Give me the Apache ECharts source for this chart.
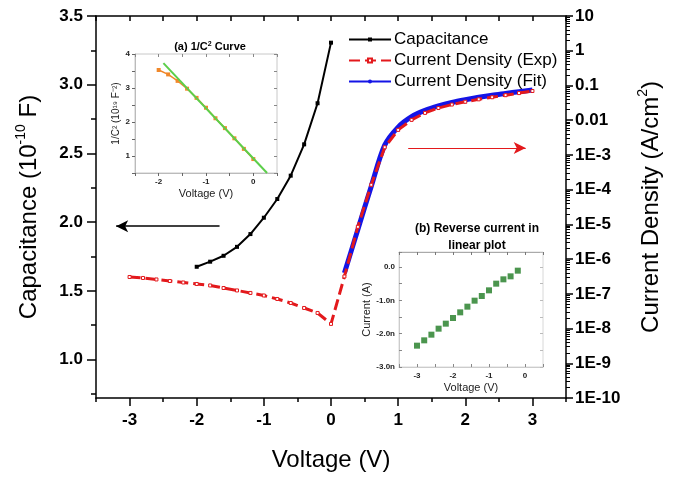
<!DOCTYPE html>
<html>
<head>
<meta charset="utf-8">
<script src="https://cdn.jsdelivr.net/npm/echarts@6/dist/echarts.min.js"></script>
<style>
  html, body { margin: 0; padding: 0; background: #fff; }
  #chart { width: 674px; height: 479px; }
</style>
</head>
<body>
<div id="chart"></div>
<script>
// ---- data ----
// capacitance (10^-10 F) vs voltage
const capVoltage = [-2, -1.8, -1.6, -1.4, -1.2, -1, -0.8, -0.6, -0.4, -0.2, 0];
const capacitance = [1.675, 1.712, 1.755, 1.82, 1.913, 2.032, 2.168, 2.338, 2.566, 2.865, 3.306];

// current density (A/cm^2), experiment
const expVoltage = [-3, -2.8, -2.6, -2.4, -2.2, -2, -1.8, -1.6, -1.4, -1.2, -1, -0.8, -0.6, -0.4, -0.2, 0,
  0.2, 0.4, 0.6, 0.8, 1, 1.2, 1.4, 1.6, 1.8, 2, 2.2, 2.4, 2.6, 2.8, 3];
const expDensity = [3.05e-7, 2.86e-7, 2.59e-7, 2.34e-7, 2.12e-7, 1.92e-7, 1.74e-7, 1.47e-7, 1.25e-7, 1.06e-7,
  8.95e-8, 7.10e-8, 5.45e-8, 3.91e-8, 2.81e-8, 1.36e-8,
  3.16e-7, 8.5e-6, 1.38e-4, 1.66e-3, 5.25e-3, 1.02e-2, 1.62e-2, 2.24e-2, 2.82e-2, 3.39e-2, 3.98e-2,
  4.57e-2, 5.25e-2, 6.03e-2, 6.92e-2];

// current density (A/cm^2), fit
const fitVoltage = [0.2, 0.4, 0.6, 0.8, 1, 1.2, 1.4, 1.6, 1.8, 2, 2.2, 2.4, 2.6, 2.8, 3];
const fitDensity = [3.98e-7, 7.08e-6, 1.26e-4, 1.91e-3, 6.31e-3, 1.26e-2, 1.91e-2, 2.57e-2, 3.24e-2,
  3.89e-2, 4.57e-2, 5.25e-2, 5.89e-2, 6.61e-2, 7.41e-2];

// inset (a): 1/C^2 (10^19 F^-2)
const invC2Voltage = [-2, -1.8, -1.6, -1.4, -1.2, -1, -0.8, -0.6, -0.4, -0.2, 0];
const invC2 = [3.53, 3.40, 3.21, 2.98, 2.71, 2.42, 2.11, 1.82, 1.52, 1.21, 0.91];
const invC2FitVoltage = [-1.9, 0.29];
const invC2Fit = [3.73, 0.5];

// inset (b): reverse current (nA)
const revVoltage = [-3, -2.8, -2.6, -2.4, -2.2, -2, -1.8, -1.6, -1.4, -1.2, -1, -0.8, -0.6, -0.4, -0.2];
const revCurrent = [-2.36, -2.20, -2.03, -1.85, -1.70, -1.53, -1.36, -1.19, -1.01, -0.87, -0.70, -0.50, -0.37, -0.28, -0.11];

// tick labels
const voltageTicks = [-3, -2, -1, 0, 1, 2, 3];
const voltageMinorTicks = [-3.5, -2.5, -1.5, -0.5, 0.5, 1.5, 2.5, 3.5];
const capTicks = [1.0, 1.5, 2.0, 2.5, 3.0, 3.5];
const capMinorTicks = [0.75, 1.25, 1.75, 2.25, 2.75, 3.25];

function zip(xs, ys) { return xs.map((x, i) => [x, ys[i]]); }

(function() {
  var myChart = echarts.init(document.getElementById("chart"), null, { renderer: "canvas" });
  var font = "'Liberation Sans', Arial, sans-serif";
  var black = "#000";

  var option = {
    animation: false,
    backgroundColor: "#fff",
    textStyle: { fontFamily: font },
    title: [
      {
        text: "(a) 1/C{s|2} Curve",
        left: 205, top: 36, textAlign: "center",
        textStyle: { fontSize: 11, fontWeight: "bold", color: black, fontFamily: font,
          rich: { s: { fontSize: 7, fontWeight: "bold", verticalAlign: "top", lineHeight: 8 } } }
      },
      {
        text: "(b) Reverse current in\nlinear plot",
        left: 472, top: 215, textAlign: "center",
        textStyle: { fontSize: 12, fontWeight: "bold", color: black, fontFamily: font, lineHeight: 17 }
      }
    ],
    legend: {
      orient: "vertical",
      left: 343, top: 26,
      itemWidth: 42, itemHeight: 5, itemGap: 4,
      textStyle: { fontSize: 17, color: black, fontFamily: font, padding: [0, 0, 0, -2] },
      data: ["Capacitance", "Current Density (Exp)", "Current Density (Fit)"]
    },
    grid: [
      { left: 96, right: 108, top: 16, bottom: 81 },
      { left: 135, top: 54, width: 142, height: 119, show: true, backgroundColor: "#fff", borderColor: "#c8c8c8", borderWidth: 1 },
      { left: 399, top: 252, width: 144, height: 115, show: true, backgroundColor: "#fff", borderColor: "#d8d8d8", borderWidth: 1 }
    ],
    xAxis: [
      // 0 main bottom
      {
        type: "value", gridIndex: 0, min: -3.5, max: 3.5, position: "bottom",
        name: "Voltage (V)", nameLocation: "middle", nameGap: 50,
        nameTextStyle: { fontSize: 24, color: black, fontFamily: font },
        axisLine: { onZero: false, lineStyle: { color: black, width: 1.5 } },
        axisTick: { customValues: voltageTicks, length: 8, lineStyle: { color: black, width: 1.5 } },
        axisLabel: { customValues: voltageTicks, margin: 14, fontSize: 17, fontWeight: "bold", color: black,
          formatter: function(v) { return String(v); } },
        splitLine: { show: false }
      },
      // 1 main bottom minor ticks
      {
        type: "value", gridIndex: 0, min: -3.5, max: 3.5, position: "bottom",
        axisLine: { show: false, onZero: false },
        axisTick: { customValues: voltageMinorTicks, length: 4, lineStyle: { color: black, width: 1.5 } },
        axisLabel: { show: false }, splitLine: { show: false }
      },
      // 2 main top
      {
        type: "value", gridIndex: 0, min: -3.5, max: 3.5, position: "top", interval: 0.5,
        axisLine: { onZero: false, lineStyle: { color: black, width: 1.5 } },
        axisTick: { inside: true, length: 5, lineStyle: { color: black, width: 1.5 } },
        axisLabel: { show: false }, splitLine: { show: false }
      },
      // 3 inset a bottom
      {
        type: "value", gridIndex: 1, min: -2.5, max: 0.5, interval: 0.5, position: "bottom",
        name: "Voltage (V)", nameLocation: "middle", nameGap: 15,
        nameTextStyle: { fontSize: 11, color: "#222", fontFamily: font },
        axisLine: { onZero: false, lineStyle: { color: "#bbb", width: 1 } },
        axisTick: { length: 3, lineStyle: { color: "#666" } },
        axisLabel: { margin: 5, fontSize: 8, fontWeight: "bold", color: "#222",
          formatter: function(v) { return Number.isInteger(v) && v > -2.5 ? String(v) : ""; } },
        splitLine: { show: false }
      },
      // 4 inset a top
      {
        type: "value", gridIndex: 1, min: -2.5, max: 0.5, interval: 0.5, position: "top",
        axisLine: { show: false, onZero: false },
        axisTick: { inside: true, length: 3, lineStyle: { color: "#888" } },
        axisLabel: { show: false }, splitLine: { show: false }
      },
      // 5 inset b bottom
      {
        type: "value", gridIndex: 2, min: -3.5, max: 0.5, interval: 0.5, position: "bottom",
        name: "Voltage (V)", nameLocation: "middle", nameGap: 15,
        nameTextStyle: { fontSize: 11, color: "#222", fontFamily: font },
        axisLine: { onZero: false, lineStyle: { color: "#ccc", width: 1 } },
        axisTick: { inside: true, length: 3, lineStyle: { color: "#888" } },
        axisLabel: { margin: 5, fontSize: 8, fontWeight: "bold", color: "#222",
          formatter: function(v) { return Number.isInteger(v) ? String(v) : ""; } },
        splitLine: { show: false }
      },
      // 6 inset b top
      {
        type: "value", gridIndex: 2, min: -3.5, max: 0.5, interval: 0.5, position: "top",
        axisLine: { onZero: false, lineStyle: { color: "#aaa", width: 1 } },
        axisTick: { inside: true, length: 3, lineStyle: { color: "#777" } },
        axisLabel: { show: false }, splitLine: { show: false }
      }
    ],
    yAxis: [
      // 0 main left
      {
        type: "value", gridIndex: 0, min: 0.72, max: 3.5, position: "left",
        name: "{t|Capacitance (10}{s|-10}{t| F)}", nameLocation: "middle", nameGap: 52, nameRotate: 90,
        nameTextStyle: { color: black, fontFamily: font,
          rich: {
            t: { fontSize: 24, lineHeight: 30, color: black, fontFamily: font },
            s: { fontSize: 14, lineHeight: 14, verticalAlign: "top", color: black, fontFamily: font }
          } },
        axisLine: { onZero: false, lineStyle: { color: black, width: 1.5 } },
        axisTick: { customValues: capTicks, length: 9, lineStyle: { color: black, width: 1.5 } },
        axisLabel: { customValues: capTicks, margin: 13, fontSize: 17, fontWeight: "bold", color: black,
          formatter: function(v) { return v.toFixed(1); } },
        splitLine: { show: false }
      },
      // 1 main left minor ticks
      {
        type: "value", gridIndex: 0, min: 0.72, max: 3.5, position: "left",
        axisLine: { show: false, onZero: false },
        axisTick: { customValues: capMinorTicks, length: 5, lineStyle: { color: black, width: 1.5 } },
        axisLabel: { show: false }, splitLine: { show: false }
      },
      // 2 main right (log)
      {
        type: "log", logBase: 10, gridIndex: 0, min: 1e-10, max: 10, interval: 1, position: "right",
        name: "{t|Current Density (A/cm}{s|2}{t|)}", nameLocation: "middle", nameGap: 70, nameRotate: 90,
        nameTextStyle: { color: black, fontFamily: font,
          rich: {
            t: { fontSize: 24, lineHeight: 30, color: black, fontFamily: font },
            s: { fontSize: 14, lineHeight: 14, verticalAlign: "top", color: black, fontFamily: font }
          } },
        axisLine: { onZero: false, lineStyle: { color: black, width: 1.5 } },
        axisTick: { length: 7, lineStyle: { color: black, width: 1.5 } },
        minorTick: { show: true, splitNumber: 9, length: 4, lineStyle: { color: black, width: 1 } },
        axisLabel: { margin: 9, fontSize: 17, fontWeight: "bold", color: black,
          formatter: function(v) {
            var e = Math.round(Math.log10(v));
            if (e >= 0) return String(Math.pow(10, e));
            if (e >= -2) return Math.pow(10, e).toFixed(-e);
            return "1E" + e;
          } },
        splitLine: { show: false }
      },
      // 3 inset a left
      {
        type: "value", gridIndex: 1, min: 0.5, max: 4, interval: 0.5, position: "left",
        name: "1/C² (10¹⁹ F⁻²)", nameLocation: "middle", nameGap: 14, nameRotate: 90,
        nameTextStyle: { fontSize: 10, color: "#222", fontFamily: font },
        axisLine: { onZero: false, lineStyle: { color: "#bbb", width: 1 } },
        axisTick: { length: 3, lineStyle: { color: "#666" } },
        axisLabel: { margin: 5, fontSize: 8, fontWeight: "bold", color: "#222",
          formatter: function(v) { return Number.isInteger(v) ? String(v) : ""; } },
        splitLine: { show: false }
      },
      // 4 inset a right
      {
        type: "value", gridIndex: 1, min: 0.5, max: 4, interval: 0.5, position: "right",
        axisLine: { show: false, onZero: false },
        axisTick: { inside: true, length: 3, lineStyle: { color: "#888" } },
        axisLabel: { show: false }, splitLine: { show: false }
      },
      // 5 inset b left
      {
        type: "value", gridIndex: 2, min: -3, max: 0.45, interval: 0.5, position: "left",
        name: "Current (A)", nameLocation: "middle", nameGap: 27, nameRotate: 90,
        nameTextStyle: { fontSize: 11, color: "#222", fontFamily: font },
        axisLine: { onZero: false, lineStyle: { color: "#ccc", width: 1 } },
        axisTick: { inside: true, length: 3, lineStyle: { color: "#888" } },
        axisLabel: { margin: 4, fontSize: 8, fontWeight: "bold", color: "#222",
          formatter: function(v) {
            if (!Number.isInteger(v)) return "";
            return v === 0 ? "0.0" : v.toFixed(1) + "n";
          } },
        splitLine: { show: false }
      },
      // 6 inset b right
      {
        type: "value", gridIndex: 2, min: -3, max: 0.45, interval: 0.5, position: "right",
        axisLine: { show: false, onZero: false },
        axisTick: { inside: true, length: 3, lineStyle: { color: "#bbb" } },
        axisLabel: { show: false }, splitLine: { show: false }
      }
    ],
    series: [
      {
        name: "Capacitance", type: "line", xAxisIndex: 0, yAxisIndex: 0, z: 3,
        data: zip(capVoltage, capacitance),
        symbol: "rect", symbolSize: 4,
        itemStyle: { color: black },
        lineStyle: { color: black, width: 2 },
        markLine: {
          silent: true, symbol: ["none", "arrow"], symbolSize: [9, 12],
          label: { show: false },
          lineStyle: { color: black, width: 1.5, type: "solid" },
          data: [[{ coord: [-1.66, 1.97] }, { coord: [-3.2, 1.97] }]]
        }
      },
      {
        name: "Current Density (Fit)", type: "line", xAxisIndex: 0, yAxisIndex: 2, z: 2,
        data: zip(fitVoltage, fitDensity),
        smooth: 0.3, showSymbol: false, symbol: "none",
        itemStyle: { color: "#1414e6" },
        lineStyle: { color: "#1414e6", width: 5 }
      },
      {
        name: "Current Density (Exp)", type: "line", xAxisIndex: 0, yAxisIndex: 2, z: 4,
        data: zip(expVoltage, expDensity),
        symbol: "rect", symbolSize: 3,
        itemStyle: { color: "#fff", borderColor: "#e3191c", borderWidth: 1 },
        lineStyle: { color: "#e3191c", width: 3, type: [11, 5] },
        markLine: {
          silent: true, symbol: ["none", "arrow"], symbolSize: [9, 12],
          label: { show: false },
          lineStyle: { color: "#e3191c", width: 1, type: "solid" },
          data: [[{ coord: [1.15, 1.58e-3] }, { coord: [2.9, 1.58e-3] }]]
        }
      },
      {
        name: "invC2", type: "line", xAxisIndex: 3, yAxisIndex: 3, z: 3,
        data: zip(invC2Voltage, invC2),
        symbol: "rect", symbolSize: 4,
        itemStyle: { color: "#f0882a" },
        lineStyle: { color: "#f0882a", width: 1.5 }
      },
      {
        name: "invC2Fit", type: "line", xAxisIndex: 3, yAxisIndex: 3, z: 4,
        data: zip(invC2FitVoltage, invC2Fit),
        symbol: "none",
        lineStyle: { color: "#5ccf4a", width: 2 }
      },
      {
        name: "reverse", type: "scatter", xAxisIndex: 5, yAxisIndex: 5,
        data: zip(revVoltage, revCurrent),
        symbol: "rect", symbolSize: 6,
        itemStyle: { color: "#1e7a22" }
      }
    ]
  };

  myChart.setOption(option);
  window.addEventListener("resize", function() {
    myChart.resize();
  });
})();
</script>
</body>
</html>
